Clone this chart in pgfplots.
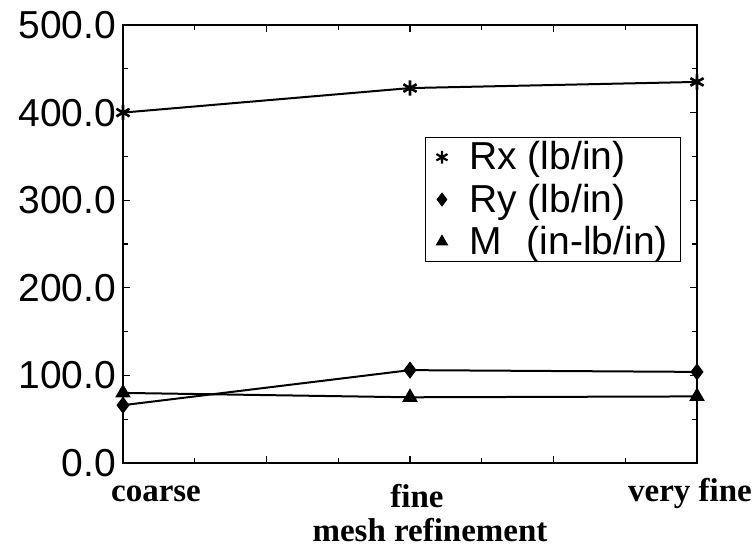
\documentclass[border=0pt]{standalone}
\usepackage{fontspec}
\setmainfont{Liberation Serif}
\newfontfamily\helv{Liberation Sans}
\usepackage{pgfplots}
\pgfplotsset{compat=1.18}
\usetikzlibrary{calc}

\begin{document}
\begin{tikzpicture}
\begin{axis}[
    name=ax,
    scale only axis,
    width=287pt, height=219pt,
    xmin=0, xmax=2, ymin=0, ymax=500,
    xtick={0,0.5,1,1.5,2},
    xticklabels={\hspace*{33pt}coarse,,\hspace*{7pt}\raisebox{-3pt}{fine},,very fine\hspace*{7pt}},
    minor x tick num=1,
    ytick={0,100,...,500},
    minor y tick num=1,
    major tick length=3.5pt, minor tick length=2.5pt,
    tick style={black, line width=0.6pt},
    axis line style={line width=1pt},
    xticklabel style={font=\bfseries\fontsize{16.5}{19}\selectfont, anchor=base, yshift=-19.5pt},
    yticklabel style={font=\helv\fontsize{19.5}{22}\selectfont},
    /pgf/number format/.cd, fixed, fixed zerofill, precision=1, assume math mode=true,
    /pgfplots/.cd,
    xlabel={mesh refinement},
    xlabel style={font=\bfseries\fontsize{16.5}{19}\selectfont, at={(axis description cs:0.5,0)}, anchor=base, yshift=-39.5pt, xshift=10pt},
    legend style={at={(0.526,0.744)}, anchor=north west, draw=black, line width=0.5pt,
        font=\helv\fontsize{19.5}{21}\selectfont, inner xsep=5.5pt, inner ysep=1pt,
        nodes={inner sep=1pt}, cells={anchor=west}, row sep=3.5pt, column sep=10pt},
]
% data
\addplot[black, line width=1pt, mark=asterisk, mark size=3.8pt, mark options={line width=1.3pt}, forget plot]
    coordinates {(0,400) (1,428) (2,435)};
\addplot[black, line width=1pt, mark=diamond*, mark size=3.5pt, forget plot]
    coordinates {(0,66) (1,106) (2,104)};
\addplot[black, line width=1pt, mark=triangle*, mark size=3.5pt, forget plot]
    coordinates {(0,80) (1,75) (2,76)};
% legend: marks only
\addlegendimage{black, only marks, mark=asterisk, mark size=3.2pt, mark options={line width=1.1pt}}
\addlegendentry{Rx (lb/in)}
\addlegendimage{black, only marks, mark=diamond*, mark size=3.2pt}
\addlegendentry{Ry (lb/in)}
\addlegendimage{black, only marks, mark=triangle*, mark size=3.2pt}
\addlegendentry{M\hspace{0.64em}(in-lb/in)}
\end{axis}
\pgfresetboundingbox
\path ($(ax.south west)+(-61.5pt,-42.5pt)$) rectangle ($(ax.north east)+(28pt,12.5pt)$);
\end{tikzpicture}
\end{document}
